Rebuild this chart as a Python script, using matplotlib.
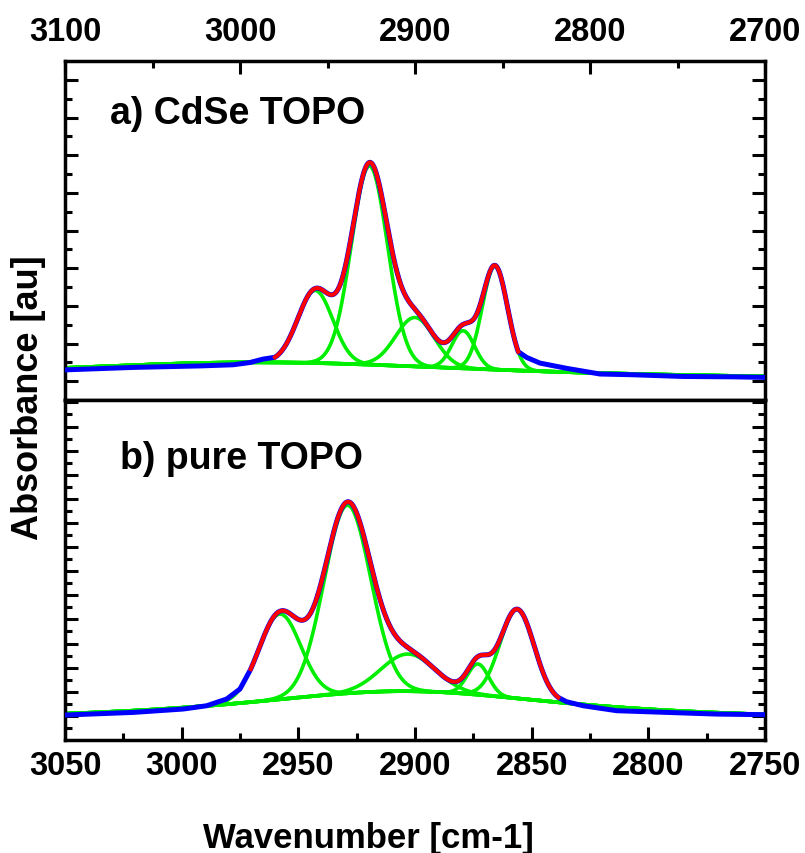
import numpy as np
import matplotlib
matplotlib.use("Agg")
import matplotlib.pyplot as plt
from matplotlib.ticker import MultipleLocator, FixedLocator

# ---- a) CdSe TOPO : fitted bands (centre cm-1, height, sigma)
A_CENTER = [2957.0, 2926.0, 2900.0, 2872.5, 2854.3]
A_HEIGHT = [3.85, 10.55, 2.6, 2.0, 5.5]
A_SIGMA = [10.0, 10.3, 11.0, 6.5, 7.2]
A_BASE = [1.0, 1.0, 2990.0, 170.0]      # offset, amplitude, centre, half width
A_FIT = [2980.0, 2841.0]                # fit window
# measured spectrum outside the fit window
A_LEFT_X = [3100.0, 3061.1, 3022.9, 3004.0, 2994.3, 2986.9]
A_LEFT_Y = [1.60, 1.73, 1.81, 1.87, 1.99, 2.17]
A_RIGHT_X = [2836.2, 2828.6, 2813.3, 2794.3, 2775.4, 2746.9, 2718.3, 2700.0]
A_RIGHT_Y = [2.26, 1.96, 1.68, 1.38, 1.34, 1.25, 1.23, 1.20]

# ---- b) pure TOPO
B_CENTER = [2958.0, 2929.0, 2903.0, 2873.0, 2856.2]
B_HEIGHT = [7.07, 15.6, 3.08, 2.55, 7.4]
B_SIGMA = [9.0, 10.0, 11.5, 4.6, 7.3]
B_BASE = [1.5, 2.55, 2905.0, 88.0]
B_FIT = [2970.4, 2838.6]
B_LEFT_X = [3050.0, 3020.7, 2999.3, 2989.3, 2980.7, 2975.0]
B_LEFT_Y = [2.07, 2.29, 2.57, 2.84, 3.40, 4.23]
B_RIGHT_X = [2835.0, 2827.9, 2813.6, 2792.1, 2770.7, 2750.0]
B_RIGHT_Y = [3.17, 2.84, 2.43, 2.29, 2.15, 2.10]

BLUE, RED, GREEN = "#0000ff", "#ff0000", "#00ee00"

plt.rcParams["font.family"] = ["Liberation Sans", "DejaVu Sans"]
plt.rcParams["font.weight"] = "bold"


def baseline(x, p):
    off, amp, x0, w = p
    return off + amp / (1 + ((x - x0) / w) ** 2)


def band(x, c, h, s):
    return h * np.exp(-0.5 * ((x - c) / s) ** 2)


def draw_panel(ax, xlim, centers, heights, sigmas, base, fit, lx, ly, rx, ry):
    x = np.linspace(xlim[0], xlim[1], 800)
    b = baseline(x, base)
    ax.plot(x, b, color=GREEN, lw=2.6, zorder=2)
    for c, h, s in zip(centers, heights, sigmas):
        ax.plot(x, b + band(x, c, h, s), color=GREEN, lw=2.6, zorder=2)
    xf = np.linspace(fit[0], fit[1], 400)
    yf = baseline(xf, base) + sum(band(xf, c, h, s)
                                  for c, h, s in zip(centers, heights, sigmas))
    ax.plot(np.r_[lx, xf, rx], np.r_[ly, yf, ry], color=BLUE, lw=3.6, zorder=3)
    ax.plot(xf, yf, color=RED, lw=2.9, zorder=4)
    ax.set_xlim(*xlim)
    for sp in ax.spines.values():
        sp.set_linewidth(2.5)


fig = plt.figure(figsize=(8.05, 8.54), dpi=100)
ax1 = fig.add_axes([65 / 805, 1 - 401 / 854, 700 / 805, 339 / 854])
ax2 = fig.add_axes([65 / 805, 1 - 741 / 854, 700 / 805, 340 / 854])

draw_panel(ax1, (3100, 2700), A_CENTER, A_HEIGHT, A_SIGMA, A_BASE, A_FIT,
           A_LEFT_X, A_LEFT_Y, A_RIGHT_X, A_RIGHT_Y)
draw_panel(ax2, (3050, 2750), B_CENTER, B_HEIGHT, B_SIGMA, B_BASE, B_FIT,
           B_LEFT_X, B_LEFT_Y, B_RIGHT_X, B_RIGHT_Y)

# top panel: wavenumber scale on top, no ticks on the shared edge
ax1.set_ylim(0, 18)
ax1.xaxis.set_major_locator(MultipleLocator(100))
ax1.xaxis.set_minor_locator(MultipleLocator(50))
ax1.yaxis.set_major_locator(FixedLocator(range(1, 18, 2)))
ax1.yaxis.set_minor_locator(FixedLocator(range(2, 18, 2)))
ax1.tick_params(axis="x", which="both", direction="in", top=True, bottom=False,
                labeltop=True, labelbottom=False)
ax1.tick_params(axis="x", which="major", pad=10)

ax2.set_ylim(0, 28.2)
ax2.xaxis.set_major_locator(MultipleLocator(50))
ax2.xaxis.set_minor_locator(MultipleLocator(25))
ax2.yaxis.set_major_locator(FixedLocator(range(2, 29, 2)))
ax2.yaxis.set_minor_locator(FixedLocator(range(1, 28, 2)))
ax2.tick_params(axis="x", which="both", direction="in", top=False, bottom=True)
ax2.tick_params(axis="x", which="major", pad=7)

for ax in (ax1, ax2):
    ax.tick_params(axis="y", which="both", direction="in", left=True, right=True,
                   labelleft=False)
    ax.tick_params(which="major", length=9.5, width=2.2, labelsize=23.5)
    ax.tick_params(which="minor", length=5, width=2.2)

fig.text(110 / 805, 1 - 124 / 854, "a) CdSe TOPO", fontsize=27,
         fontweight="bold", va="baseline", ha="left")
fig.text(120 / 805, 1 - 469 / 854, "b) pure TOPO", fontsize=27,
         fontweight="bold", va="baseline", ha="left")
fig.text(29 / 805, 1 - 398 / 854, "Absorbance [au]", fontsize=26,
         fontweight="bold", rotation=90, va="center", ha="center")
fig.text(368 / 805, 1 - 848 / 854, "Wavenumber [cm-1]", fontsize=25,
         fontweight="bold", va="baseline", ha="center")

fig.savefig("out.png", dpi=100)
